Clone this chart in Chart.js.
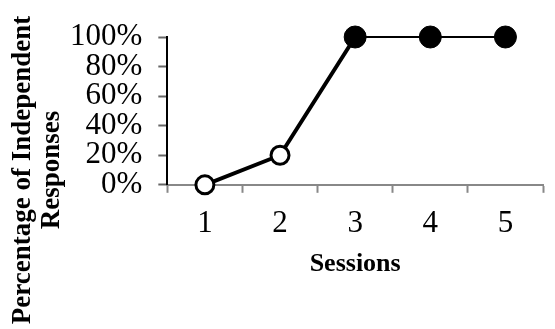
<!DOCTYPE html>
<html lang="en">
<head>
    <meta charset="UTF-8">
    <title>Percentage of Independent Responses</title>
    <script src="https://cdn.jsdelivr.net/npm/chart.js"></script>
    <style>
        body {
            margin: 0;
            padding: 0;
            background: #ffffff;
        }
        #wrap {
            width: 555px;
            height: 329px;
        }
    </style>
</head>
<body>
    <div id="wrap"><canvas id="chart" width="555" height="329"></canvas></div>
    <script>
        const sessions = ['1', '2', '3', '4', '5'];
        const independent = [0, 20, 100, 100, 100];
        const yTicks = [0, 20, 40, 60, 80, 100];
        const yTitle = ['Percentage of Independent', 'Responses'];

        // first two sessions drawn as open circles
        const pointFill = ['#ffffff', '#ffffff', '#000000', '#000000', '#000000'];
        const pointSize = [9, 9, 11, 11, 11];
        const pointEdge = [3, 3, 1, 1, 1];

        const serif = "'Liberation Serif', 'Times New Roman', serif";

        // the y title sits lower than the plot's centre, so draw it ourselves
        const sideTitle = {
            id: 'sideTitle',
            afterDraw(chart) {
                const c = chart.ctx;
                c.save();
                c.fillStyle = '#000000';
                c.font = 'bold 27px ' + serif;
                c.textAlign = 'center';
                c.textBaseline = 'middle';
                c.translate(23, 170);
                c.rotate(-Math.PI / 2);
                yTitle.forEach((line, i) => c.fillText(line, 0, i * 29));
                c.restore();
            }
        };

        const ctx = document.getElementById('chart').getContext('2d');
        new Chart(ctx, {
            type: 'line',
            data: {
                labels: sessions,
                datasets: [{
                    data: independent,
                    borderColor: '#000000',
                    borderWidth: 4,
                    segment: {
                        borderWidth: c => c.p0DataIndex >= 2 ? 2 : 4
                    },
                    pointBackgroundColor: pointFill,
                    pointBorderColor: '#000000',
                    pointBorderWidth: pointEdge,
                    pointRadius: pointSize,
                    tension: 0,
                    clip: false
                }]
            },
            options: {
                responsive: false,
                animation: false,
                layout: {
                    padding: { top: 37, right: 7, bottom: 49, left: 54 }
                },
                plugins: {
                    legend: { display: false },
                    tooltip: { enabled: false }
                },
                scales: {
                    x: {
                        offset: true,
                        grid: {
                            offset: true,
                            drawOnChartArea: false,
                            tickLength: 8,
                            tickWidth: 2,
                            color: '#888888'
                        },
                        border: { color: '#888888', width: 2 },
                        ticks: {
                            color: '#000000',
                            padding: 16,
                            font: { family: serif, size: 31, lineHeight: 1.0 }
                        },
                        title: {
                            display: true,
                            text: 'Sessions',
                            color: '#000000',
                            padding: { top: -7, bottom: 0 },
                            font: { family: serif, size: 26, weight: 'bold' }
                        }
                    },
                    y: {
                        min: 0,
                        max: 100,
                        afterBuildTicks: axis => {
                            axis.ticks = yTicks.map(v => ({ value: v }));
                        },
                        grid: {
                            drawOnChartArea: false,
                            tickLength: 9,
                            tickWidth: 2,
                            color: '#666666'
                        },
                        border: { color: '#000000', width: 2 },
                        ticks: {
                            autoSkip: false,
                            color: '#000000',
                            padding: 16,
                            font: { family: serif, size: 31, lineHeight: 0.9 },
                            callback: v => v + '%'
                        }
                    }
                }
            },
            plugins: [sideTitle]
        });
    </script>
</body>
</html>
